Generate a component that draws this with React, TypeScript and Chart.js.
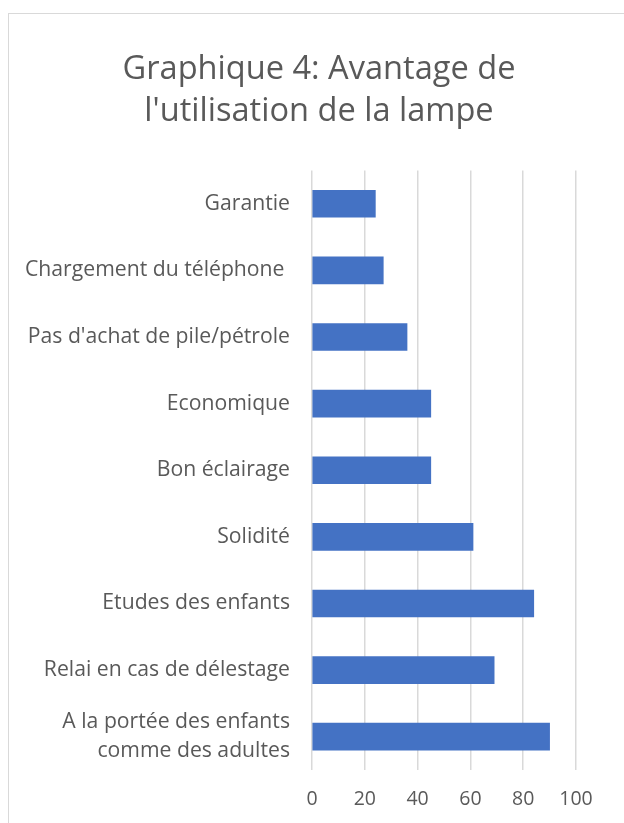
import React, { useEffect, useRef } from "react";
import { Chart, registerables } from "chart.js";

Chart.register(...registerables);

const categories: (string | string[])[] = [
  "Garantie",
  "Chargement du téléphone ",
  "Pas d'achat de pile/pétrole",
  "Economique",
  "Bon éclairage",
  "Solidité",
  "Etudes des enfants",
  "Relai en cas de délestage",
  ["A la portée des enfants", "comme des adultes"],
];
const values: number[] = [24, 27, 36, 45, 45, 61, 84, 69, 90];
const titleLines: string[] = ["Graphique 4: Avantage de", "l'utilisation de la lampe"];
const xMin = 0;
const xMax = 100;
const xStep = 20;

const FONT = "'Open Sans', sans-serif";
const TEXT = "#595959";

export default function App() {
  const ref = useRef<HTMLCanvasElement | null>(null);
  useEffect(() => {
    if (!ref.current) return;
    const chart = new Chart(ref.current, {
      type: "bar",
      data: {
        labels: categories,
        datasets: [
          {
            data: values,
            backgroundColor: "#4472c4",
            borderWidth: 0,
            barThickness: 27,
          },
        ],
      },
      options: {
        indexAxis: "y",
        animation: false,
        responsive: false,
        maintainAspectRatio: false,
        layout: { padding: { top: 0, left: 14, right: 0, bottom: 0 } },
        plugins: {
          legend: { display: false },
          tooltip: { enabled: false },
          title: {
            display: true,
            text: titleLines,
            color: TEXT,
            font: { family: FONT, size: 32.6, weight: "normal", lineHeight: 1.28 },
            padding: { top: 49, bottom: 38 },
          },
        },
        scales: {
          x: {
            min: xMin,
            max: xMax,
            ticks: {
              stepSize: xStep,
              color: TEXT,
              font: { family: FONT, size: 19.5 },
              padding: 18,
            },
            grid: { color: "#d9d9d9", lineWidth: 1.5, drawTicks: false },
            border: { display: false },
            afterFit: (s: any) => {
              s.height = 53;
            },
          },
          y: {
            ticks: {
              color: TEXT,
              font: { family: FONT, size: 21.2, lineHeight: 1.35 },
              padding: 22,
            },
            grid: { display: false, drawTicks: false },
            border: { display: false },
            afterFit: (s: any) => {
              s.width = 298;
            },
          },
          spacer: {
            type: "linear",
            position: "right",
            display: true,
            ticks: { display: false },
            grid: { display: false, drawTicks: false },
            border: { display: false },
            afterFit: (s: any) => {
              s.width = 48;
            },
          },
        },
      },
    });
    return () => chart.destroy();
  }, []);

  return (
    <div
      style={{
        position: "fixed",
        left: 0,
        top: 0,
        width: 624,
        height: 823,
        overflow: "hidden",
        background: "#ffffff",
      }}
    >
      <div
        style={{
          position: "absolute",
          left: 8,
          top: 13,
          width: 700,
          height: 900,
          border: "1.5px solid #d9d9d9",
          boxSizing: "border-box",
        }}
      />
      <canvas
        ref={ref}
        width={624}
        height={823}
        style={{ position: "absolute", left: 0, top: 0, width: 624, height: 823 }}
      />
    </div>
  );
}
